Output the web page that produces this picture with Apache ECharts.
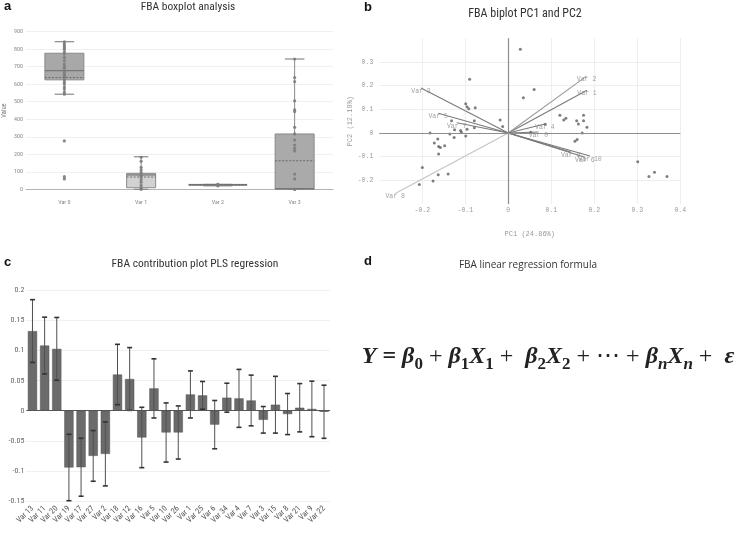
<!DOCTYPE html>
<html><head><meta charset="utf-8">
<script src="https://cdn.jsdelivr.net/npm/echarts@6/dist/echarts.min.js"></script>
<style>html,body{margin:0;padding:0;background:#fff}#c{width:738px;height:537px}</style>
</head><body><div id="c"></div>
<script>
// ---- Panel a: boxplot ----
const boxCategories = ['Var 0', 'Var 1', 'Var 2', 'Var 3'];
const boxMin    = [543, 0, 20, 0];
const boxQ1     = [625, 9, 24, 0];
const boxMedian = [678, 82, 26, 4];
const boxQ3     = [777, 91, 28, 316];
const boxMax    = [843, 186, 28, 744];
const boxMean   = [638, 70, 25, 163];
const var0Points = [842, 830, 819, 808, 800, 785, 772, 753, 734, 715, 700, 691, 672, 659, 648, 640, 626, 612, 602, 585, 573, 555, 543, 276, 72, 59];
const var1Points = [183, 160, 125, 110, 95, 80, 70, 55, 40, 22, 8, 0];
const var2Points = [20, 23, 25, 27, 28];
const var3Points = [744, 638, 615, 505, 454, 444, 354, 316, 281, 253, 234, 219, 87, 59, 0, 0];

// ---- Panel b: biplot ----
const pcScoreX = [0.028, 0.035, 0.06, -0.09, -0.099, -0.096, -0.092, -0.077, -0.079, -0.079, -0.096, -0.099, -0.111, -0.109, -0.125, -0.126, -0.132, -0.136, -0.019, -0.013, -0.182, -0.164, -0.172, -0.162, -0.158, -0.148, -0.162, -0.200, -0.163, -0.140, -0.175, -0.207, 0.052, 0.086, 0.120, 0.129, 0.134, 0.159, 0.163, 0.175, 0.175, 0.183, 0.172, 0.160, 0.155, 0.301, 0.327, 0.340, 0.369];
const pcScoreY = [0.353, 0.149, 0.184, 0.227, 0.123, 0.111, 0.102, 0.107, 0.052, 0.022, 0.016, -0.013, 0.011, 0.003, 0.014, -0.019, 0.052, -0.004, 0.055, 0.027, 0.0, -0.025, -0.042, -0.057, -0.061, -0.054, -0.089, -0.146, -0.176, -0.173, -0.203, -0.217, 0.003, 0.037, 0.075, 0.055, 0.062, 0.052, 0.038, 0.075, 0.052, 0.024, 0.0, -0.027, -0.035, -0.121, -0.184, -0.166, -0.184];
const loadingNames = ['Var 1', 'Var 2', 'Var 3', 'Var 4', 'Var 0', 'Var 5', 'Var 7', 'Var 8', 'Var 9', 'Var 6', 'Var 10'];
const loadingX = [0.183, 0.182, -0.203, 0.085, 0.07, -0.163, -0.12, -0.263, 0.145, 0.178, 0.19];
const loadingY = [0.18, 0.24, 0.19, 0.038, 0.004, 0.083, 0.043, -0.255, -0.08, -0.102, -0.097];
const pcXName = 'PC1 (24.86%)';
const pcYName = 'PC2 (12.18%)';

// ---- Panel c: contribution plot ----
const contribCategories = ['Var 13', 'Var 11', 'Var 20', 'Var 19', 'Var 17', 'Var 27', 'Var 2', 'Var 18', 'Var 12', 'Var 16', 'Var 5', 'Var 10', 'Var 26', 'Var 1', 'Var 25', 'Var 6', 'Var 34', 'Var 4', 'Var 7', 'Var 3', 'Var 15', 'Var 8', 'Var 21', 'Var 9', 'Var 22'];
const contribValues = [0.132, 0.108, 0.1025, -0.094, -0.0936, -0.0748, -0.0715, 0.060, 0.0526, -0.0443, 0.037, -0.036, -0.036, 0.027, 0.0255, -0.023, 0.0216, 0.0205, 0.017, -0.015, 0.010, -0.0055, 0.005, 0.003, -0.0017];
const contribErrors = [0.052, 0.047, 0.052, 0.055, 0.048, 0.042, 0.053, 0.05, 0.052, 0.05, 0.049, 0.049, 0.044, 0.039, 0.023, 0.04, 0.024, 0.048, 0.042, 0.022, 0.047, 0.034, 0.04, 0.046, 0.044];

// ---- Titles ----
const titleA = 'FBA boxplot analysis';
const titleB = 'FBA biplot PC1 and PC2';
const titleC = 'FBA contribution plot PLS regression';
const titleD = 'FBA linear regression formula';

const NARROW = "'Liberation Sans Narrow', 'Roboto Condensed', 'Liberation Sans', sans-serif";
const MONO = "'Liberation Mono', 'DejaVu Sans Mono', monospace";
const SERIF = "'Liberation Serif', 'DejaVu Serif', serif";

const chart = echarts.init(document.getElementById('c'), null, {renderer: 'canvas'});

const boxData = boxCategories.map((c, i) => [i, boxMin[i], boxQ1[i], boxMedian[i], boxQ3[i], boxMax[i], boxMean[i]]);
const boxPoints = [];
[var0Points, var1Points, var2Points, var3Points].forEach((arr, i) => arr.forEach(v => boxPoints.push([i, v])));
const boxWidths = [39, 29, 58, 39];
const boxFills = ['#a8a8a8', '#d2d2d2', '#b0b0b0', '#aaaaaa'];

function renderBox(params, api) {
  const i = api.value(0);
  const bw = boxWidths[i];
  const cx = api.coord([i, 0])[0];
  const y = k => api.coord([i, api.value(k)])[1];
  const yMin = y(1), yQ1 = y(2), yMed = y(3), yQ3 = y(4), yMax = y(5), yMean = y(6);
  const stroke = '#8a8a8a';
  return {type: 'group', children: [
    {type: 'line', shape: {x1: cx, y1: yMax, x2: cx, y2: yQ3}, style: {stroke: stroke, lineWidth: 1}},
    {type: 'line', shape: {x1: cx, y1: yQ1, x2: cx, y2: yMin}, style: {stroke: stroke, lineWidth: 1}},
    {type: 'line', shape: {x1: cx - bw / 4, y1: yMax, x2: cx + bw / 4, y2: yMax}, style: {stroke: stroke, lineWidth: 1.2}},
    {type: 'line', shape: {x1: cx - bw / 4, y1: yMin, x2: cx + bw / 4, y2: yMin}, style: {stroke: stroke, lineWidth: 1.2}},
    {type: 'rect', shape: {x: cx - bw / 2, y: yQ3, width: bw, height: Math.max(yQ1 - yQ3, 0.5)}, style: {fill: boxFills[i], stroke: stroke, lineWidth: 1}},
    {type: 'line', shape: {x1: cx - bw / 2, y1: yMed, x2: cx + bw / 2, y2: yMed}, style: {stroke: '#777', lineWidth: 1.3}},
    {type: 'line', shape: {x1: cx - bw / 2, y1: yMean, x2: cx + bw / 2, y2: yMean}, style: {stroke: '#6a6a6a', lineWidth: 1, lineDash: [2, 1.5]}}
  ]};
}

const errData = contribValues.map((v, i) => [i, v - contribErrors[i], v + contribErrors[i]]);
function renderErr(params, api) {
  const i = api.value(0);
  const p1 = api.coord([i, api.value(1)]);
  const p2 = api.coord([i, api.value(2)]);
  const cw = 2.5;
  return {type: 'group', children: [
    {type: 'line', shape: {x1: p1[0], y1: p1[1], x2: p2[0], y2: p2[1]}, style: {stroke: '#505050', lineWidth: 1}},
    {type: 'line', shape: {x1: p1[0] - cw, y1: p1[1], x2: p1[0] + cw, y2: p1[1]}, style: {stroke: '#333', lineWidth: 1.6}},
    {type: 'line', shape: {x1: p2[0] - cw, y1: p2[1], x2: p2[0] + cw, y2: p2[1]}, style: {stroke: '#333', lineWidth: 1.6}}
  ]};
}

const loadLines = loadingNames.map((n, i) => ({
  coords: [[0, 0], [loadingX[i], loadingY[i]]],
  lineStyle: {color: n === 'Var 8' ? '#c4c4c4' : (n === 'Var 2' ? '#9a9a9a' : '#7a7a7a')}
}));
const loadLabels = loadingNames.map((n, i) => ({name: n, value: [loadingX[i], loadingY[i]]}));
const scores = pcScoreX.map((x, i) => [x, pcScoreY[i]]);

const gridLineX = {show: true, showMinLine: false, lineStyle: {color: '#eeeeee', width: 1}};
const gridLineY = {show: true, showMinLine: false, showMaxLine: false, lineStyle: {color: '#eeeeee', width: 1}};

const FS = 24, FSS = 17;
const richBase = {fontFamily: SERIF, fill: '#222', lineHeight: 32, verticalAlign: 'middle'};
const option = {
  animation: false,
  backgroundColor: '#ffffff',
  grid: [
    {left: 23, top: 31.7, width: 310, height: 157.6},
    {left: 379.3, top: 38.2, width: 301, height: 165.9},
    {left: 26.4, top: 290, width: 303.7, height: 211.3}
  ],
  xAxis: [
    {gridIndex: 0, type: 'category', data: boxCategories, boundaryGap: true,
     axisLine: {show: true, lineStyle: {color: '#b5b5b5', width: 1}}, axisTick: {show: false},
     axisLabel: {fontSize: 6, color: '#888', margin: 10, fontFamily: NARROW}, splitLine: {show: false}},
    {gridIndex: 1, type: 'value', min: -0.3, max: 0.4, interval: 0.1,
     axisLine: {show: false}, axisTick: {show: false},
     axisLabel: {fontSize: 6.5, color: '#999', margin: 3, fontFamily: MONO, showMinLabel: false},
     splitLine: gridLineX,
     name: pcXName, nameLocation: 'middle', nameGap: 27,
     nameTextStyle: {fontSize: 7, color: '#999', fontFamily: MONO}},
    {gridIndex: 2, type: 'category', data: contribCategories, boundaryGap: true,
     axisLine: {show: false, onZero: false}, axisTick: {show: false},
     axisLabel: {fontSize: 8, color: '#555', rotate: 45, margin: 6, interval: 0, fontFamily: NARROW},
     splitLine: {show: false}}
  ],
  yAxis: [
    {gridIndex: 0, type: 'value', min: 0, max: 900, interval: 100,
     axisLine: {show: false}, axisTick: {show: false},
     axisLabel: {fontSize: 6, color: '#888', margin: 3, fontFamily: NARROW},
     splitLine: {show: true, lineStyle: {color: '#f0f0f0'}},
     name: 'Value', nameLocation: 'middle', nameGap: 18, nameRotate: 90,
     nameTextStyle: {fontSize: 6.5, color: '#777', fontFamily: NARROW}},
    {gridIndex: 1, type: 'value', min: -0.3, max: 0.4, interval: 0.1,
     axisLine: {show: false}, axisTick: {show: false},
     axisLabel: {fontSize: 6.5, color: '#999', margin: 6, fontFamily: MONO, showMinLabel: false, showMaxLabel: false},
     splitLine: gridLineY,
     name: pcYName, nameLocation: 'middle', nameGap: 16, nameRotate: 90,
     nameTextStyle: {fontSize: 7, color: '#999', fontFamily: MONO}},
    {gridIndex: 2, type: 'value', min: -0.15, max: 0.2, interval: 0.05,
     axisLine: {show: false}, axisTick: {show: false},
     axisLabel: {fontSize: 8, color: '#666', margin: 2, fontFamily: NARROW},
     splitLine: {show: true, lineStyle: {color: '#f0f0f0'}}}
  ],
  series: [
    {type: 'custom', xAxisIndex: 0, yAxisIndex: 0, renderItem: renderBox, data: boxData,
     encode: {x: 0, y: [1, 2, 3, 4, 5, 6]}, z: 2, silent: true},
    {type: 'scatter', xAxisIndex: 0, yAxisIndex: 0, data: boxPoints, symbolSize: 3.2,
     itemStyle: {color: '#7c7c7c', opacity: 0.9}, z: 3, silent: true},

    {type: 'scatter', xAxisIndex: 1, yAxisIndex: 1, data: scores, symbolSize: 3,
     itemStyle: {color: '#5f5f5f'}, z: 4, silent: true,
     markLine: {silent: true, symbol: 'none', label: {show: false},
       lineStyle: {color: '#8e8e8e', width: 1.2, type: 'solid'},
       data: [{xAxis: 0}, {yAxis: 0}]}},
    {type: 'lines', coordinateSystem: 'cartesian2d', xAxisIndex: 1, yAxisIndex: 1,
     data: loadLines, lineStyle: {width: 1.1, opacity: 1, curveness: 0}, z: 3, silent: true},
    {type: 'scatter', xAxisIndex: 1, yAxisIndex: 1, data: loadLabels, symbolSize: 1,
     itemStyle: {color: 'rgba(0,0,0,0)'}, z: 5, silent: true,
     label: {show: true, position: 'inside', offset: [0, 3], formatter: '{b}',
       fontSize: 6.5, color: '#8a8a8a', fontFamily: MONO}},

    {type: 'bar', xAxisIndex: 2, yAxisIndex: 2, data: contribValues, barWidth: '76%',
     itemStyle: {color: '#6b6b6b', borderColor: '#555', borderWidth: 0.5}, z: 2, silent: true,
     markLine: {silent: true, symbol: 'none', label: {show: false},
       lineStyle: {color: '#555', width: 1.2, type: 'solid'}, data: [{yAxis: 0}]}},
    {type: 'custom', xAxisIndex: 2, yAxisIndex: 2, renderItem: renderErr, data: errData,
     encode: {x: 0, y: [1, 2]}, z: 4, silent: true}
  ],
  graphic: [
    {type: 'text', style: {text: 'a', x: 4, y: 6, verticalAlign: 'middle', fontSize: 13, fontWeight: 'bold', fontFamily: "'Liberation Sans', Arial, sans-serif", fill: '#111'}},
    {type: 'text', style: {text: 'b', x: 364, y: 7, verticalAlign: 'middle', fontSize: 13, fontWeight: 'bold', fontFamily: "'Liberation Sans', Arial, sans-serif", fill: '#111'}},
    {type: 'text', style: {text: 'c', x: 4, y: 262, verticalAlign: 'middle', fontSize: 13, fontWeight: 'bold', fontFamily: "'Liberation Sans', Arial, sans-serif", fill: '#111'}},
    {type: 'text', style: {text: 'd', x: 364, y: 261, verticalAlign: 'middle', fontSize: 13, fontWeight: 'bold', fontFamily: "'Liberation Sans', Arial, sans-serif", fill: '#111'}},
    {type: 'text', style: {text: titleA, x: 188, y: 7, align: 'center', verticalAlign: 'middle', fontSize: 11.5, fontFamily: NARROW, fill: '#333'}},
    {type: 'text', style: {text: titleB, x: 525, y: 13.5, align: 'center', verticalAlign: 'middle', fontSize: 12, fontFamily: NARROW, fill: '#333'}},
    {type: 'text', style: {text: titleC, x: 195, y: 264, align: 'center', verticalAlign: 'middle', fontSize: 11.5, fontFamily: NARROW, fill: '#333'}},
    {type: 'text', style: {text: titleD, x: 528, y: 265.5, align: 'center', verticalAlign: 'middle', fontSize: 10, fontFamily: "'Open Sans', 'Liberation Sans', sans-serif", fill: '#333'}},
    {type: 'text', style: {
      text: '{i|Y} {b|=} {i|β}{s|0}{o| + }{i|β}{s|1}{i|X}{s|1}{o| +  }{i|β}{s|2}{i|X}{s|2}{o| + ⋯ + }{i|β}{si|n}{i|X}{si|n}{o| +  }{i|ε}',
      x: 548, y: 357, align: 'center', verticalAlign: 'middle',
      fontSize: FS, fontFamily: SERIF, fill: '#222',
      rich: {
        i: Object.assign({}, richBase, {fontSize: FS, fontStyle: 'italic', fontWeight: 'bold'}),
        b: Object.assign({}, richBase, {fontSize: FS, fontWeight: 'bold'}),
        o: Object.assign({}, richBase, {fontSize: FS}),
        s: {fontSize: FSS, fontWeight: 'bold', fontFamily: SERIF, lineHeight: 16, verticalAlign: 'bottom', fill: '#222'},
        si: {fontSize: FSS, fontStyle: 'italic', fontWeight: 'bold', fontFamily: SERIF, lineHeight: 16, verticalAlign: 'bottom', fill: '#222'}
      }
    }}
  ]
};
chart.setOption(option);
</script>
</body></html>
